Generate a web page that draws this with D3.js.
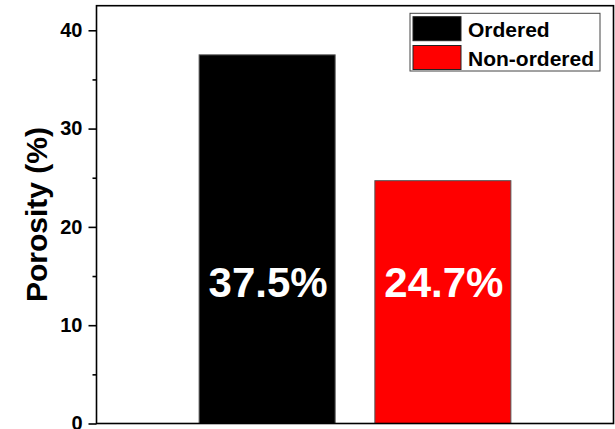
<!DOCTYPE html>
<html>
<head>
<meta charset="utf-8">
<script src="https://cdn.jsdelivr.net/npm/d3@7"></script>
<style>
  html, body { margin: 0; padding: 0; background: #fff; }
  svg { display: block; }
  text { font-family: Arial, "Liberation Sans", sans-serif; font-weight: bold; }
</style>
</head>
<body>
<svg id="chart" width="615" height="429"></svg>
<script>
const categories = ["Ordered", "Non-ordered"];
const porosity = [37.5, 24.7];
const barColors = ["#000000", "#ff0000"];
const yTicks = [0, 10, 20, 30, 40];
const yMinorTicks = [5, 15, 25, 35];
const yLabel = "Porosity (%)";

const svg = d3.select("#chart");
const pLeft = 96.5, pRight = 613.5, pTop = 5.7, pBottom = 423.5;

const x = d3.scaleBand().domain(categories).range([pLeft, pRight])
  .paddingInner(0.226).paddingOuter(0.584);
const y = d3.scaleLinear().domain([0, 42.5]).range([pBottom, pTop]);

// bars
svg.append("g").selectAll("rect").data(categories).join("rect")
  .attr("x", d => x(d))
  .attr("y", (d, i) => y(porosity[i]))
  .attr("width", x.bandwidth())
  .attr("height", (d, i) => y(0) - y(porosity[i]))
  .attr("fill", (d, i) => barColors[i])
  .attr("stroke", "#555")
  .attr("stroke-width", 1);

// bar labels
svg.append("g").selectAll("text").data(categories).join("text")
  .attr("x", d => x(d) + x.bandwidth() / 2 + 1)
  .attr("y", 297)
  .attr("text-anchor", "middle")
  .attr("fill", "#fff")
  .attr("font-size", 42)
  .text((d, i) => porosity[i].toFixed(1) + "%");

// frame
svg.append("rect")
  .attr("x", pLeft).attr("y", pTop)
  .attr("width", pRight - pLeft).attr("height", pBottom - pTop)
  .attr("fill", "none").attr("stroke", "#000").attr("stroke-width", 1.6);

// y axis
const yAxis = d3.axisLeft(y).tickValues(yTicks).tickSize(8).tickPadding(6).tickFormat(d3.format("d"));
const gy = svg.append("g").attr("transform", `translate(${pLeft},0)`).call(yAxis);
gy.select(".domain").remove();
gy.selectAll(".tick line").attr("stroke", "#000").attr("stroke-width", 1.6);
gy.selectAll(".tick text").attr("font-size", 20).attr("fill", "#000")
  .style("font-family", "Arial, 'Liberation Sans', sans-serif").style("font-weight", "bold");

const yMinor = d3.axisLeft(y).tickValues(yMinorTicks).tickSize(4).tickFormat("");
const gym = svg.append("g").attr("transform", `translate(${pLeft},0)`).call(yMinor);
gym.select(".domain").remove();
gym.selectAll(".tick line").attr("stroke", "#000").attr("stroke-width", 1.6);

// y label
svg.append("text")
  .attr("transform", `translate(47,${(pTop + pBottom) / 2}) rotate(-90)`)
  .attr("text-anchor", "middle")
  .attr("font-size", 30)
  .attr("fill", "#000")
  .text(yLabel);

// legend
const lg = svg.append("g");
lg.append("rect").attr("x", 410).attr("y", 13.3).attr("width", 190).attr("height", 57.7)
  .attr("fill", "#fff").attr("stroke", "#444").attr("stroke-width", 1);
categories.forEach((c, i) => {
  const yy = 16.7 + i * 28.8;
  lg.append("rect").attr("x", 413).attr("y", yy).attr("width", 48).attr("height", 24)
    .attr("fill", barColors[i]).attr("stroke", "#222").attr("stroke-width", 1);
  lg.append("text").attr("x", 468).attr("y", yy + 20.7)
    .attr("font-size", 21).attr("fill", "#000").text(c);
});
</script>
</body>
</html>
